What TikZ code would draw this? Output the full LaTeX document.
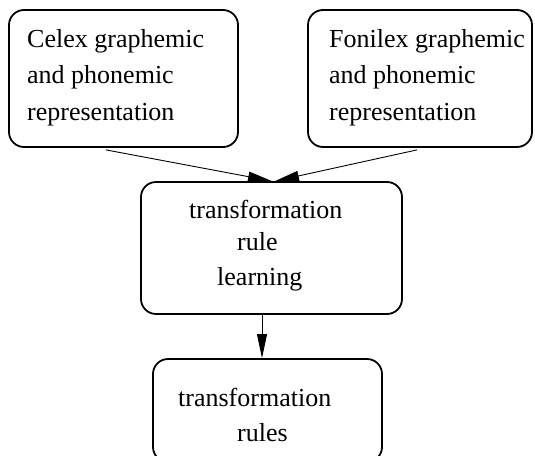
\documentclass[tikz,border=0pt]{standalone}
\usepackage{fontspec}
\setmainfont{Liberation Serif}
\usetikzlibrary{arrows.meta}
\begin{document}
\begin{tikzpicture}[x=1pt,y=-1pt,
  box/.style={draw,line width=1.8pt,rounded corners=15pt,inner sep=0pt},
  lbl/.style={anchor=base west,inner sep=0pt,font=\fontsize{26}{36}\selectfont},
  arr/.style={line width=0.9pt,-{Triangle[length=24pt,width=10pt]}}]
\useasboundingbox (0,0) rectangle (535,455);
\clip (0,0) rectangle (535,455);
% boxes
\node[box,minimum width=229pt,minimum height=137pt] (b1) at (123.5,78.5) {};
\node[box,minimum width=224pt,minimum height=137pt] (b2) at (420,78.5) {};
\node[box,minimum width=261pt,minimum height=132pt] (b3) at (271.5,248) {};
\node[box,minimum width=229pt,minimum height=103pt] (b4) at (267.5,410.5) {};
% texts
\node[lbl] (t11) at (27,47) {Celex graphemic};
\node[lbl] (t12) at (27,83) {and phonemic};
\node[lbl] (t13) at (27,120) {representation};
\node[lbl] (t21) at (329,47) {Fonilex graphemic};
\node[lbl] (t22) at (329,83) {and phonemic};
\node[lbl] (t23) at (329,120) {representation};
\node[lbl] (t31) at (189,218) {transformation};
\node[lbl] (t32) at (237,250) {rule};
\node[lbl] (t33) at (217,285) {learning};
\node[lbl] (t41) at (178,406) {transformation};
\node[lbl] (t42) at (237,441) {rules};
% connectors
\draw[arr] ([xshift=-17.5pt,yshift=-2pt]b1.south) -- ([xshift=0.5pt]b3.north);
\draw[arr] ([xshift=-3pt,yshift=-2pt]b2.south) -- ([xshift=3.5pt]b3.north);
\draw[arr] ([xshift=-9.5pt]b3.south) -- ([xshift=-5.5pt]b4.north);
\end{tikzpicture}
\end{document}
